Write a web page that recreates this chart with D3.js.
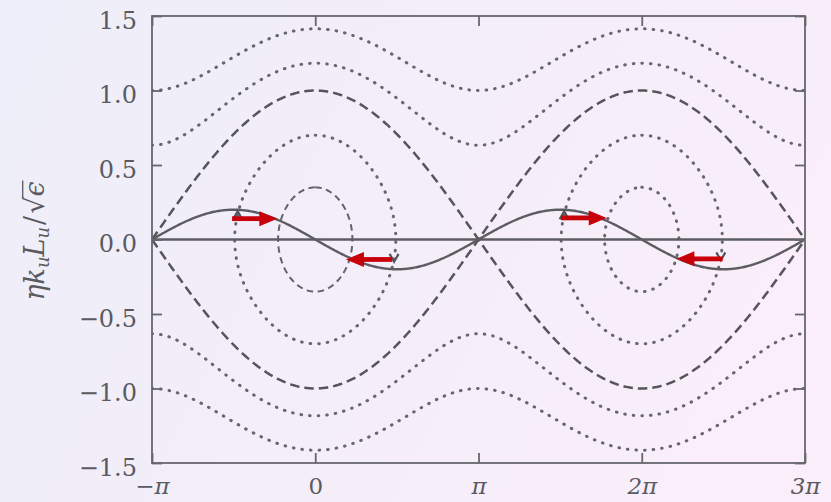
<!DOCTYPE html>
<html>
<head>
<meta charset="utf-8">
<script src="https://cdn.jsdelivr.net/npm/d3@7"></script>
<style>
  html, body { margin: 0; padding: 0; }
  body { width: 831px; height: 502px; overflow: hidden; }
  svg { display: block; }
</style>
</head>
<body>
<svg id="chart" width="831" height="502"></svg>
<script>
const PI = Math.PI;

// Axis ticks and labels
const xTickValues = [-PI, 0, PI, 2 * PI, 3 * PI];
const xTickLabels = ["−π", "0", "π", "2π", "3π"];
const yTickValues = [-1.5, -1.0, -0.5, 0.0, 0.5, 1.0, 1.5];
const yTickLabels = ["−1.5", "−1.0", "−0.5", "0.0", "0.5", "1.0", "1.5"];

// Phase-space levels of H = y^2 + sin^2(x/2)
const passingLevels = [2.0, 1.4];          // untrapped orbits above / below the buckets
const separatrixLevel = 1.0;               // bucket boundary
const bucketCentres = [0, 2 * PI];
const trappedAmplitudes = [0.7, 0.35];     // half-height of closed orbits in each bucket
const trappedStyles = [["dot", "dash"], ["dot", "dot"]];

// Solid reference trajectory and direction marks
const trajectoryAmplitude = 0.2;
const flowMarks = [
  { centre: 0,      y: 0.17,  side: -1 },
  { centre: 0,      y: -0.13, side: 1 },
  { centre: 2 * PI, y: 0.17,  side: -1 },
  { centre: 2 * PI, y: -0.12, side: 1 }
];
const shiftArrows = [
  { from: -1.60, to: -0.73, y: 0.140 },
  { from: 1.48,  to: 0.59,  y: -0.134 },
  { from: 4.73,  to: 5.61,  y: 0.145 },
  { from: 7.84,  to: 6.95,  y: -0.130 }
];

const W = 831, H = 502;
const plot = { left: 152, right: 805, top: 16, bottom: 463 };

const svg = d3.select("#chart");

// background
const defs = svg.append("defs");
const bg = defs.append("linearGradient").attr("id", "bg")
  .attr("x1", "0%").attr("y1", "0%").attr("x2", "100%").attr("y2", "30%");
bg.append("stop").attr("offset", "0%").attr("stop-color", "#edeef9");
bg.append("stop").attr("offset", "100%").attr("stop-color", "#f9eef9");
svg.append("rect").attr("width", W).attr("height", H).attr("fill", "url(#bg)");

defs.append("clipPath").attr("id", "plotclip").append("rect")
  .attr("x", plot.left).attr("y", plot.top)
  .attr("width", plot.right - plot.left).attr("height", plot.bottom - plot.top);

const x = d3.scaleLinear().domain([-PI, 3 * PI]).range([plot.left, plot.right]);
const y = d3.scaleLinear().domain([-1.5, 1.5]).range([plot.bottom, plot.top]);

const line = d3.line().x(d => x(d[0])).y(d => y(d[1]));
const N = 600;
const xs = d3.range(N + 1).map(i => -PI + (4 * PI) * i / N);

const lineStyles = {
  dot:  { dash: "0.6,8", width: 3.0, color: "#66666c", cap: "round" },
  dash: { dash: "6.5,4.5", width: 2.0, color: "#626268", cap: "butt" },
  sep:  { dash: "9.5,5", width: 2.5, color: "#55555b", cap: "butt" }
};

const curves = svg.append("g").attr("clip-path", "url(#plotclip)");

function drawPath(points, style) {
  const s = lineStyles[style];
  curves.append("path")
    .attr("d", line(points))
    .attr("fill", "none")
    .attr("stroke", s.color)
    .attr("stroke-width", s.width)
    .attr("stroke-dasharray", s.dash)
    .attr("stroke-linecap", s.cap);
}

// passing orbits
passingLevels.forEach(h => {
  [1, -1].forEach(sign => {
    drawPath(xs.map(v => [v, sign * Math.sqrt(h - Math.sin(v / 2) ** 2)]), "dot");
  });
});

// separatrix
[1, -1].forEach(sign => {
  drawPath(xs.map(v => [v, sign * Math.sqrt(Math.max(0, separatrixLevel - Math.sin(v / 2) ** 2))]), "sep");
});

// closed orbits inside each bucket
bucketCentres.forEach((c, ci) => {
  trappedAmplitudes.forEach((a, ai) => {
    const pts = d3.range(361).map(i => {
      const t = (i / 360) * 2 * PI;
      return [c + 2 * Math.asin(a * Math.sin(t)), a * Math.cos(t)];
    });
    drawPath(pts, trappedStyles[ci][ai]);
  });
});

// horizontal axis line and solid trajectory
curves.append("path")
  .attr("d", line([[-PI, 0], [3 * PI, 0]]))
  .attr("fill", "none").attr("stroke", "#5c5c62").attr("stroke-width", 2.4);
curves.append("path")
  .attr("d", line(xs.map(v => [v, -trajectoryAmplitude * Math.sin(v)])))
  .attr("fill", "none").attr("stroke", "#5c5c62").attr("stroke-width", 2.4);

// direction chevrons on the outer closed orbits
const aOuter = trappedAmplitudes[0];
flowMarks.forEach(m => {
  const xv = m.centre + m.side * 2 * Math.asin(Math.sqrt(aOuter * aOuter - m.y * m.y));
  const px = x(xv), py = y(m.y);
  const dir = m.side < 0 ? -1 : 1; // -1 points up, 1 points down
  curves.append("path")
    .attr("d", `M${px - 4.5},${py - dir * 5} L${px},${py + dir * 3} L${px + 4.5},${py - dir * 5}`)
    .attr("fill", "none").attr("stroke", "#555559").attr("stroke-width", 2.2)
    .attr("stroke-linejoin", "miter");
});

// red shift arrows
const red = "#c8000a";
shiftArrows.forEach(a => {
  const x0 = x(a.from), x1 = x(a.to), py = y(a.y);
  const d = x1 > x0 ? 1 : -1;
  const headLen = 18, headHalf = 7.5;
  svg.append("line")
    .attr("x1", x0).attr("y1", py).attr("x2", x1 - d * headLen + d * 1).attr("y2", py)
    .attr("stroke", red).attr("stroke-width", 4.8);
  svg.append("path")
    .attr("d", `M${x1},${py} L${x1 - d * headLen},${py - headHalf} L${x1 - d * headLen},${py + headHalf} Z`)
    .attr("fill", red);
});

// frame
const frameColor = "#66666c";
svg.append("rect")
  .attr("x", plot.left).attr("y", plot.top)
  .attr("width", plot.right - plot.left).attr("height", plot.bottom - plot.top)
  .attr("fill", "none").attr("stroke", frameColor).attr("stroke-width", 1.8);

const fontFamily = "'DejaVu Serif', 'Liberation Serif', serif";

function styleAxis(g, size) {
  g.select(".domain").remove();
  g.selectAll(".tick line").attr("stroke", frameColor).attr("stroke-width", 1.8);
  g.selectAll(".tick text")
    .attr("fill", "#5a5a60")
    .style("font-family", fontFamily)
    .style("font-size", (size || 24) + "px");
}

// bottom axis
svg.append("g").attr("transform", `translate(0,${plot.bottom})`)
  .call(d3.axisBottom(x).tickValues(xTickValues)
    .tickFormat((d, i) => xTickLabels[i]).tickSize(-10).tickPadding(15))
  .call(styleAxis, 23)
  .call(g => g.selectAll(".tick text").style("font-style", (d, i) => i === 1 ? "normal" : "italic"));

// top axis
svg.append("g").attr("transform", `translate(0,${plot.top})`)
  .call(d3.axisTop(x).tickValues(xTickValues).tickFormat("").tickSize(-10))
  .call(styleAxis);

// left axis
svg.append("g").attr("transform", `translate(${plot.left},0)`)
  .call(d3.axisLeft(y).tickValues(yTickValues)
    .tickFormat((d, i) => yTickLabels[i]).tickSize(-10).tickPadding(15))
  .call(styleAxis)
  .call(g => g.selectAll(".tick text").attr("dy", "0.5em"));

// right axis
svg.append("g").attr("transform", `translate(${plot.right},0)`)
  .call(d3.axisRight(y).tickValues(yTickValues).tickFormat("").tickSize(-10))
  .call(styleAxis);

// y-axis title: eta k_u L_u / sqrt(epsilon)
const titleG = svg.append("g").attr("transform", "translate(44,241) rotate(-90)");
const title = titleG.append("text")
  .attr("text-anchor", "middle")
  .attr("fill", "#5a5a60")
  .style("font-family", fontFamily)
  .style("font-size", "27px");
title.append("tspan").style("font-style", "italic").text("ηk");
title.append("tspan").style("font-style", "italic").style("font-size", "18px").attr("dy", 5).text("u");
title.append("tspan").style("font-style", "italic").attr("dy", -5).text("L");
title.append("tspan").style("font-style", "italic").style("font-size", "18px").attr("dy", 5).text("u");
title.append("tspan").attr("dy", -5).attr("dx", 2).text("/");
title.append("tspan").attr("dx", 2).text("√");
title.append("tspan").style("font-style", "italic").text("ϵ");

const node = title.node();
const nChars = node.getNumberOfChars();
const sqrtEnd = node.getEndPositionOfChar(nChars - 2);
const epsEnd = node.getEndPositionOfChar(nChars - 1);
titleG.append("line")
  .attr("x1", sqrtEnd.x - 1.2).attr("x2", epsEnd.x + 1)
  .attr("y1", -21.3).attr("y2", -21.3)
  .attr("stroke", "#5a5a60").attr("stroke-width", 1.3);
</script>
</body>
</html>
